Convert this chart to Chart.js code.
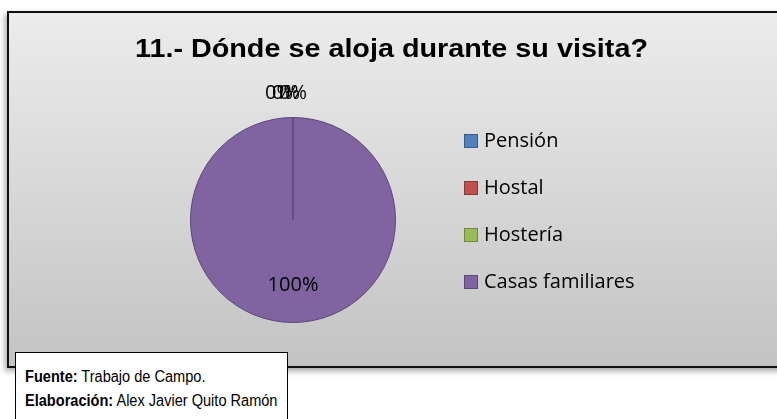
<!DOCTYPE html>
<html>
<head>
<meta charset="utf-8">
<script src="https://cdn.jsdelivr.net/npm/chart.js@4.4.0/dist/chart.umd.min.js"></script>
<style>
  html, body { margin: 0; padding: 0; background: #fff; }
  #wrap { position: relative; width: 777px; height: 419px; overflow: hidden; }
  #chart { position: absolute; left: 0; top: 0; }
  .fuente {
    position: absolute; left: 15px; top: 352px; width: 273px; height: 80px;
    background: #fff; border: 1px solid #000; box-sizing: border-box;
    padding: 12px 0 0 9px; color: #000;
  }
  .fuente div {
    font-family: "Liberation Sans", Arial, sans-serif; font-size: 16px; line-height: 24px;
    white-space: nowrap; transform: scaleX(0.91); transform-origin: left center;
  }
</style>
</head>
<body>
<div id="wrap">
  <canvas id="chart" width="777" height="419"></canvas>
  <div class="fuente">
    <div><b>Fuente:</b> Trabajo de Campo.</div>
    <div><b>Elaboración:</b> Alex Javier Quito Ramón</div>
  </div>
</div>
<script>
const chartTitle = '11.- Dónde se aloja durante su visita?';
const categories = ['Pensión', 'Hostal', 'Hostería', 'Casas familiares'];
const percentages = [0, 0, 0, 100];
const sliceColors = ['#4f81bd', '#c0504d', '#9bbb59', '#8064a2'];
const edgeColors = ['#385d8a', '#8c3836', '#71893f', '#5c4776'];

// box, shadow, gradient, title
const frame = {
  id: 'frame',
  beforeDraw(chart) {
    const c = chart.ctx;
    c.save();
    const g = c.createLinearGradient(0, 12, 0, 368);
    g.addColorStop(0, '#ececec');
    g.addColorStop(1, '#c3c3c3');
    c.shadowColor = 'rgba(0,0,0,0.35)';
    c.shadowBlur = 6;
    c.shadowOffsetX = -2;
    c.shadowOffsetY = 3;
    c.fillStyle = g;
    c.fillRect(7, 11, 790, 357);
    c.shadowColor = 'transparent';
    c.lineWidth = 2;
    c.strokeStyle = '#111';
    c.strokeRect(8, 12, 790, 355);
    c.fillStyle = '#000';
    c.font = 'bold 25px "Liberation Sans", Arial, sans-serif';
    c.textBaseline = 'middle';
    c.textAlign = 'center';
    const w = c.measureText(chartTitle).width;
    c.translate(391.5, 50);
    c.scale(513 / w, 1);
    c.fillText(chartTitle, 0, 0);
    c.restore();
  },
  afterDraw(chart) {
    const c = chart.ctx;
    const meta = chart.getDatasetMeta(0);
    c.save();
    c.fillStyle = '#000';
    c.textBaseline = 'middle';
    c.textAlign = 'center';
    c.font = '20px "Open Sans", sans-serif';
    meta.data.forEach((arc, i) => {
      const v = percentages[i];
      const mid = (arc.startAngle + arc.endAngle) / 2;
      let x, y;
      if (v === 0) {
        // excel piles the zero labels up above the top of the pie
        x = arc.x + Math.cos(mid) * (arc.outerRadius + 24) + (i - 2) * 7;
        y = arc.y + Math.sin(mid) * (arc.outerRadius + 24);
      } else {
        x = arc.x + Math.cos(mid) * arc.outerRadius * 0.64;
        y = arc.y + Math.sin(mid) * arc.outerRadius * 0.64;
      }
      c.fillText(v + '%', x, y);
    });
    // legend
    c.textAlign = 'left';
    categories.forEach((name, i) => {
      const y = 141 + i * 47;
      c.fillStyle = sliceColors[i];
      c.fillRect(464, y - 7, 14, 14);
      c.strokeStyle = edgeColors[i];
      c.lineWidth = 1;
      c.strokeRect(464.5, y - 6.5, 13, 13);
      c.fillStyle = '#000';
      c.fillText(name, 484, y);
    });
    c.restore();
  }
};

new Chart(document.getElementById('chart'), {
  type: 'pie',
  data: {
    labels: categories,
    datasets: [{
      data: percentages,
      backgroundColor: sliceColors,
      borderColor: edgeColors,
      borderWidth: 1
    }]
  },
  options: {
    responsive: false,
    animation: false,
    layout: { padding: { left: 190, right: 381, top: 117, bottom: 96 } },
    plugins: { legend: { display: false }, title: { display: false }, tooltip: { enabled: false } }
  },
  plugins: [frame]
});
</script>
</body>
</html>
